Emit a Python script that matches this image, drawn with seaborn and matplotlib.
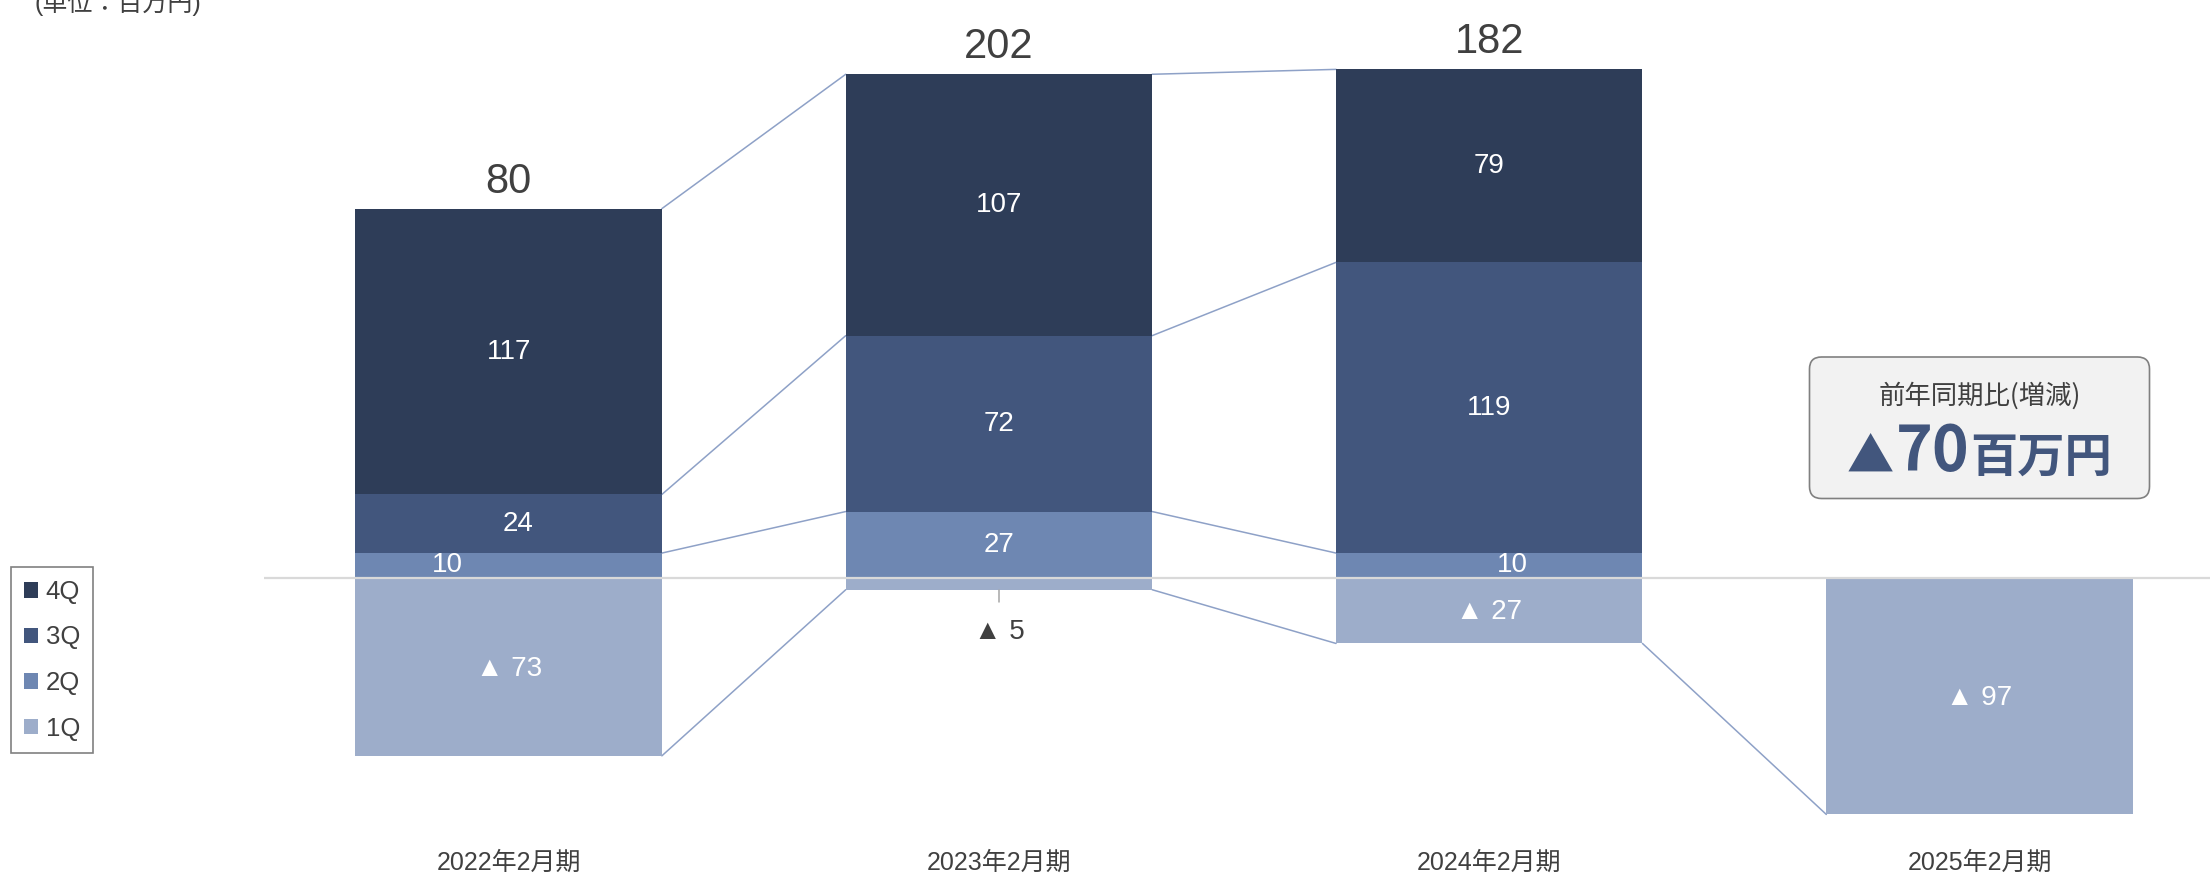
import numpy as np
import pandas as pd
import matplotlib
matplotlib.use('Agg')
import matplotlib.pyplot as plt
import seaborn as sns
from matplotlib.patches import FancyBboxPatch, Patch
from matplotlib.offsetbox import TextArea, HPacker, AnnotationBbox

# data (百万円)
periods = ['2022年2月期', '2023年2月期', '2024年2月期', '2025年2月期']
q1 = [-73, -5, -27, -97]
q2 = [10, 27, 10, np.nan]
q3 = [24, 72, 119, np.nan]
q4 = [117, 107, 79, np.nan]
totals = [80, 202, 182, np.nan]
yoy_diff = -70

quarters = ['4Q', '3Q', '2Q', '1Q']
colors = {'4Q': '#2e3d58', '3Q': '#42567d', '2Q': '#6e87b2', '1Q': '#9dadca'}
line_color = '#8ea1c7'
text_gray = '#404040'

df = pd.DataFrame({'period': periods, '1Q': q1, '2Q': q2, '3Q': q3, '4Q': q4, 'total': totals})
df['top2'] = df['2Q']
df['top3'] = df['top2'] + df['3Q']
df['top4'] = df['top3'] + df['4Q']


def fmt(v):
    return f'▲ {abs(v):.0f}' if v < 0 else f'{v:.0f}'


sns.set_style('white')
plt.rcParams['font.family'] = ['Liberation Sans', 'Noto Sans CJK JP']

fig = plt.figure(figsize=(22.1, 8.75), dpi=100)
ax = fig.add_axes([263.5 / 2210, 30 / 875, 1 - 263.5 / 2210, 845 / 875])

W = 0.625
# stacked bars drawn as overlapping cumulative heights
for q, col in [('4Q', 'top4'), ('3Q', 'top3'), ('2Q', 'top2'), ('1Q', '1Q')]:
    sns.barplot(x=df['period'], y=df[col].fillna(0), order=periods, color=colors[q],
                saturation=1, width=W, errorbar=None, edgecolor='none', linewidth=0,
                ax=ax, zorder=2)

# connector lines between neighbouring bars
for i in range(len(df) - 1):
    for lv in ['top2', 'top3', 'top4', '1Q']:
        a, b = df[lv].iloc[i], df[lv].iloc[i + 1]
        if np.isnan(a) or np.isnan(b):
            continue
        ax.plot([i + W / 2, i + 1 - W / 2], [a, b], color=line_color, lw=1.1, zorder=1)

ax.axhline(0, color='#d9d9d9', lw=1.6, zorder=3)

# segment labels
lab_size = 20
nudge = {(0, '2Q'): -0.125, (0, '3Q'): 0.02, (2, '2Q'): 0.047}
for i in range(len(df)):
    base = 0
    for q in ['2Q', '3Q', '4Q']:
        v = df[q].iloc[i]
        if np.isnan(v):
            continue
        ax.text(i + nudge.get((i, q), 0), base + v / 2, fmt(v), color='white',
                ha='center', va='center', fontsize=lab_size, zorder=5)
        base += v
    v = df['1Q'].iloc[i]
    if abs(v) < 10:
        ax.plot([i, i], [v, v - 5.2], color='#a6a6a6', lw=1.1, zorder=4)
        ax.text(i, v - 17.5, fmt(v), color=text_gray, ha='center', va='center',
                fontsize=lab_size, zorder=5)
    else:
        ax.text(i, v / 2 - 0.8, fmt(v), color='white', ha='center', va='center',
                fontsize=lab_size, zorder=5)
    t = df['total'].iloc[i]
    if not np.isnan(t):
        ax.annotate(f'{t:.0f}', xy=(i, df['top4'].iloc[i]), xytext=(0, 11.5),
                    textcoords='offset points', ha='center', va='baseline',
                    fontsize=30, color=text_gray)

ax.set_xlim(-0.5, 3.47)
ax.set_ylim(-109.5, 236.4)
ax.set_xlabel('')
ax.set_ylabel('')
ax.set_yticks([])
ax.tick_params(axis='x', length=0, pad=4.5, labelsize=18, labelcolor=text_gray)
for s in ax.spines.values():
    s.set_visible(False)
ax.patch.set_alpha(0)

# legend
handles = [Patch(facecolor=colors[q], edgecolor='none') for q in quarters]
leg = ax.legend(handles, quarters, loc='upper left',
                bbox_to_anchor=(10.7 / 2210, 1 - 567 / 875), bbox_transform=fig.transFigure,
                borderaxespad=0, frameon=True, fancybox=False, edgecolor='#808080',
                framealpha=1, fontsize=18.5, handlelength=0.56, handleheight=0.56,
                handletextpad=0.3, labelspacing=0.84, borderpad=0.5)
leg.get_frame().set_linewidth(1.2)
for t in leg.get_texts():
    t.set_color(text_gray)

# unit note (cut at top edge, as in the source slide)
fig.text(35 / 2210, 1 - 10.5 / 875, '(単位：百万円)', ha='left', va='baseline',
         fontsize=18, color=text_gray)

# year-on-year box
box = FancyBboxPatch((18.095, 3.765), 3.40, 1.415,
                     boxstyle='round,pad=0,rounding_size=0.12',
                     transform=fig.dpi_scale_trans, facecolor='#f2f2f2',
                     edgecolor='#808080', linewidth=1.2, zorder=6)
fig.add_artist(box)
fig.text(19.795, 4.79, '前年同期比(増減)', ha='center', va='center', fontsize=19,
         color=text_gray, family=['Noto Sans CJK JP'], transform=fig.dpi_scale_trans,
         zorder=7)
big = dict(fontweight='bold', color=colors['3Q'], family=['Noto Sans CJK JP'])
sign = '▲' if yoy_diff < 0 else '+'
pack = HPacker(children=[TextArea(sign, textprops=dict(fontsize=34, **big)),
                         TextArea(f'{abs(yoy_diff)}', textprops=dict(fontsize=45, **big)),
                         TextArea('百万円', textprops=dict(fontsize=34, **big))],
               align='baseline', pad=0, sep=1)
ab = AnnotationBbox(pack, (19.795, 4.22), xycoords=fig.dpi_scale_trans,
                    box_alignment=(0.5, 0.5), frameon=False, annotation_clip=False,
                    zorder=7)
fig.add_artist(ab)

fig.savefig('out.png', dpi=100)
